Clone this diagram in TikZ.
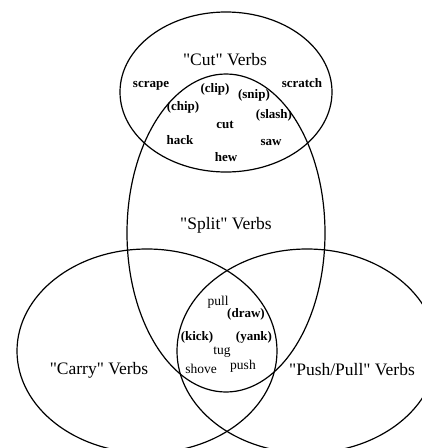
\documentclass[tikz,border=0pt]{standalone}
\usepackage{fontspec}
\setmainfont{Liberation Serif}
\newcommand{\qd}[1]{\textquotedbl#1\textquotedbl}
\begin{document}
\begin{tikzpicture}[x=1pt, y=-1pt, line width=1.2pt,
    classname/.style={font=\fontsize{17.5}{20}\selectfont, inner sep=0pt, anchor=base},
    verb/.style={font=\fontsize{13}{15}\selectfont\bfseries, inner sep=0pt, anchor=base},
    verbthin/.style={font=\fontsize{13.5}{15}\selectfont, inner sep=0pt, anchor=base}]
    \useasboundingbox (0,0) rectangle (422,448);
    \clip (0,0) rectangle (422,448);
    \draw (226,92) ellipse [x radius=106pt, y radius=80pt];
    \draw (226,233) ellipse [x radius=99pt, y radius=159pt];
    \draw (147,351) ellipse [x radius=130pt, y radius=102pt];
    \draw (307,351) ellipse [x radius=130pt, y radius=102pt];
    \node[classname] (cut) at (225,65) {\qd{Cut} Verbs};
    \node[classname] (split) at (226,229) {\qd{Split} Verbs};
    \node[classname] (carry) at (99,374) {\qd{Carry} Verbs};
    \node[classname] (pushpull) at (352,375) {\qd{Push/Pull} Verbs};
    \node[verb] (scrape) at (151,87) {scrape};
    \node[verb] (clip) at (215,92) {(clip)};
    \node[verb] (snip) at (254,98) {(snip)};
    \node[verb] (scratch) at (302,87) {scratch};
    \node[verb] (chip) at (183,110) {(chip)};
    \node[verb] (slash) at (274,118) {(slash)};
    \node[verb] (cutw) at (225,128) {cut};
    \node[verb] (hack) at (180,144) {hack};
    \node[verb] (saw) at (271,145) {saw};
    \node[verb] (hew) at (226,161) {hew};
    \node[verbthin] (pull) at (218,305) {pull};
    \node[verb] (draw) at (246,317) {(draw)};
    \node[verb] (kick) at (197,340) {(kick)};
    \node[verb] (yank) at (254,340) {(yank)};
    \node[verbthin] (tug) at (222,354) {tug};
    \node[verbthin] (shove) at (201,373) {shove};
    \node[verbthin] (push) at (243,369) {push};
\end{tikzpicture}
\end{document}
